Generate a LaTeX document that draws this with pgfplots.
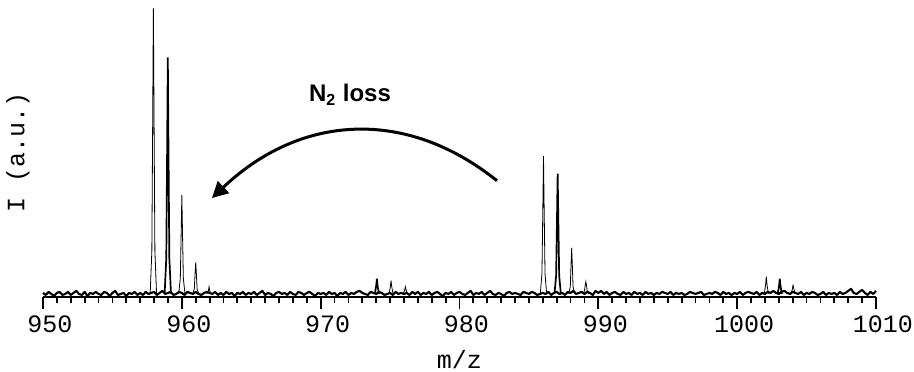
\documentclass[border=0pt]{standalone}
\usepackage{fontspec}
\setmainfont{Liberation Mono}
\newfontfamily\sansfont{Liberation Sans}
\usepackage{pgfplots}
\pgfplotsset{compat=1.18}
\usepackage{pgfplotstable}
\usetikzlibrary{arrows.meta}

% baseline noise, m/z 950.0 ... 1010.0 in steps of 0.2
\pgfplotstableread{
y
1
-1
2
0
-2
1
2
-1
0
2
-1
1
3
0
-1
2
-2
1
0
2
0
-1
2
1
-2
1
3
-1
0
1
-2
1
0
2
-1
1
-1
2
0
1
2
-1
1
3
0
1
2
-1
0
2
1
-1
2
1
0
2
0
-1
1
2
1
0
2
-1
1
-1
2
0
1
-2
1
0
2
-1
1
0
2
-1
1
3
-1
1
0
-2
1
2
0
1
-1
2
0
-1
2
1
-1
1
2
0
-2
1
0
1
-1
2
0
1
-2
1
0
2
-1
1
0
2
3
1
0
-1
2
1
0
2
1
-1
0
1
-1
2
0
1
0
1
-1
2
0
2
-1
1
0
2
-1
1
2
0
-2
1
0
2
-1
1
2
0
-1
1
3
-1
1
0
2
-1
1
3
0
-1
1
0
-2
1
2
0
1
0
-1
2
1
0
2
1
-1
0
1
0
2
-1
1
2
0
1
-1
2
1
3
0
1
2
0
2
1
-1
3
1
3
0
2
-1
1
2
0
-1
2
0
1
-1
2
0
1
-1
2
0
1
-1
1
0
2
1
0
2
-1
1
0
1
-1
0
2
1
0
1
2
-1
0
1
0
2
1
-1
2
0
1
-1
1
0
2
-1
1
2
1
0
2
-1
1
0
2
1
3
1
0
2
3
1
0
2
1
0
2
-1
1
0
2
1
-1
0
2
-1
1
0
1
-1
2
0
1
3
5
1
0
2
4
1
-1
2
0
3
}\noise

\begin{document}
\begin{tikzpicture}
\begin{axis}[
  width=416.5pt, height=141.5pt, scale only axis,
  xmin=950, xmax=1010, ymin=-3, ymax=280,
  clip=false,
  axis x line=bottom, axis y line=left,
  x axis line style={-, line width=1.2pt},
  y axis line style={draw=none},
  ytick=\empty,
  xtick={950,960,...,1010}, minor x tick num=9,
  tick align=outside,
  major tick length=6pt, minor tick length=3pt,
  every tick/.style={black, line width=0.9pt},
  xticklabel style={font=\fontsize{12.5}{14}\selectfont, xshift=3.5pt},
  /pgf/number format/assume math mode=true,
  /pgf/number format/1000 sep={},
  xlabel={m/z}, ylabel={I (a.u.)},
  xlabel style={font=\fontsize{12.5}{14}\selectfont, at={(axis description cs:0.5,-0.215)}, anchor=center},
  ylabel style={font=\fontsize{12.5}{14}\selectfont, at={(axis description cs:-0.03,0.5)}, anchor=center},
  cycle list={{black, mark=none, line width=0.85pt, line join=round}},
]
\addplot[black, mark=none, line width=1.05pt, line join=round] table[x expr=950+0.2*\coordindex, y=y] {\noise};
% N2-loss product cluster
\addplot coordinates {(957.72,0)(957.84,42)(957.9,168)(957.95,280)(958.0,168)(958.06,42)(958.18,0)};
\addplot coordinates {(958.76,0)(958.88,35)(958.94,139)(958.99,232)(959.04,139)(959.1,35)(959.22,0)};
\addplot coordinates {(959.77,0)(959.89,15)(959.95,58)(960.0,97)(960.05,58)(960.11,15)(960.23,0)};
\addplot coordinates {(960.78,0)(960.9,5)(960.95,19)(961.0,31)(961.05,19)(961.1,5)(961.22,0)};
\addplot coordinates {(961.8,0)(961.91,3)(961.96,7)(962.01,3)(962.12,0)};
% small cluster near 974
\addplot coordinates {(973.9,0)(974.0,8)(974.05,15)(974.1,8)(974.2,0)};
\addplot coordinates {(974.92,0)(975.02,7)(975.07,13)(975.12,7)(975.22,0)};
\addplot coordinates {(975.95,0)(976.05,4)(976.1,7)(976.15,4)(976.25,0)};
% parent cluster
\addplot coordinates {(985.82,0)(985.94,20)(986.0,81)(986.05,135)(986.1,81)(986.16,20)(986.28,0)};
\addplot coordinates {(986.84,0)(986.96,18)(987.02,71)(987.07,118)(987.12,71)(987.18,18)(987.3,0)};
\addplot coordinates {(987.86,0)(987.98,7)(988.03,27)(988.08,45)(988.13,27)(988.18,7)(988.3,0)};
\addplot coordinates {(988.9,0)(989.0,3)(989.05,8)(989.1,12)(989.15,8)(989.2,3)(989.3,0)};
% small cluster near 1002
\addplot coordinates {(1001.95,0)(1002.05,9)(1002.1,17)(1002.15,9)(1002.25,0)};
\addplot coordinates {(1002.92,0)(1003.02,8)(1003.07,15)(1003.12,8)(1003.22,0)};
\addplot coordinates {(1003.88,0)(1003.98,5)(1004.03,9)(1004.08,5)(1004.18,0)};
% annotation
\draw[line width=1.5pt, -{Triangle[length=8pt,width=8pt]}]
  (axis cs:982.70,111) .. controls (axis cs:976.2,182) and (axis cs:968.6,177) .. (axis cs:962.17,94);
\node[font=\sansfont\bfseries\fontsize{12}{14}\selectfont] at (axis cs:972.11,195) {N\textsubscript{2} loss};
\coordinate (sw) at (rel axis cs:0,0);
\end{axis}
\pgfresetboundingbox
\path[use as bounding box] ([shift={(-21.5pt,-37pt)}]sw) rectangle ([shift={(435.5pt,148.5pt)}]sw);
\end{tikzpicture}
\end{document}
